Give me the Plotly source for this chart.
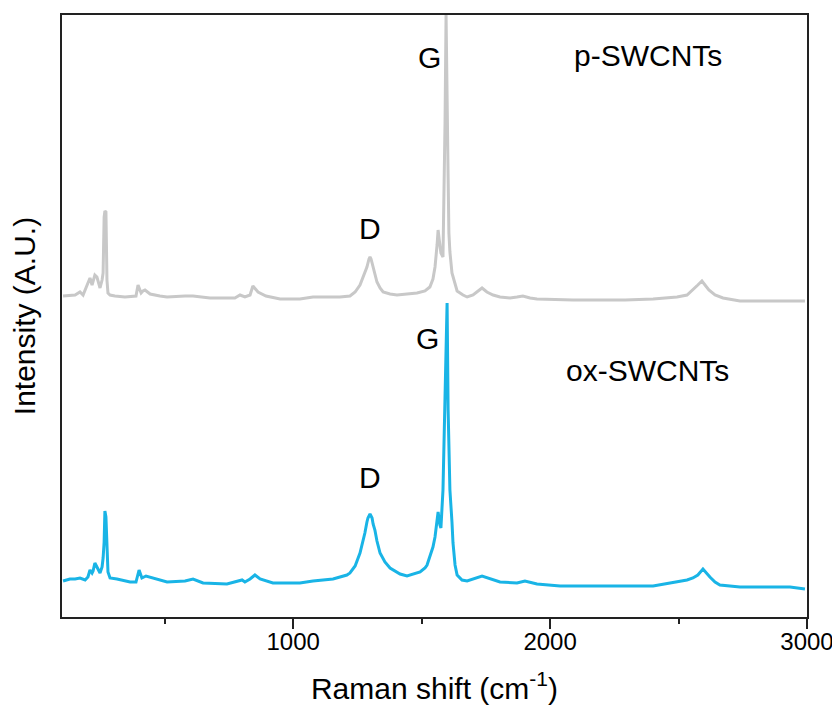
import plotly.graph_objects as go

# p-SWCNTs (grey, offset upward)
p_shift = [104, 131, 151, 170, 182, 201, 209, 217, 228, 236, 248, 256, 260, 264, 267, 271, 275, 279,
           287, 306, 345, 388, 396, 408, 415, 423, 443, 481, 509, 579, 610, 676, 715, 773, 793, 812,
           832, 843, 863, 894, 949, 1026, 1077, 1143, 1182, 1221, 1241, 1260, 1272, 1287, 1295,
           1299, 1303, 1311, 1318, 1326, 1338, 1350, 1377, 1404, 1443, 1482, 1513, 1532, 1544,
           1552, 1560, 1564, 1568, 1575, 1583, 1587, 1591, 1595, 1599, 1603, 1606, 1610, 1618,
           1630, 1638, 1661, 1677, 1700, 1735, 1754, 1778, 1805, 1844, 1871, 1894, 1922, 1949,
           2089, 2292, 2401, 2494, 2533, 2556, 2575, 2591, 2603, 2618, 2642, 2673, 2739, 2992]
p_int = [321, 322, 322, 325, 322, 334, 339, 332, 342, 340, 329, 337, 344, 400, 406, 405, 337, 324,
         322, 321, 320, 321, 332, 324, 326, 327, 323, 321, 320, 321, 321, 319, 319, 319, 322, 320,
         322, 331, 325, 321, 318, 318, 320, 320, 320, 321, 325, 332, 340, 350, 358,
         360, 358, 350, 342, 335, 329, 325, 323, 322, 323, 324, 326, 330, 338,
         350, 372, 387, 378, 364, 360, 417, 494, 602, 494, 440, 384, 365, 344,
         332, 326, 322, 320, 322, 329, 325, 322, 320, 319, 320, 321, 319, 318,
         317, 317, 318, 320, 322, 327, 332, 336, 332, 327, 322, 319, 316, 316]

# ox-SWCNTs (blue)
ox_shift = [104, 131, 151, 170, 190, 201, 209, 217, 221, 228, 236, 248, 256, 260, 264, 267, 271,
            275, 279, 287, 314, 365, 388, 400, 411, 427, 454, 509, 579, 610, 649, 742, 801, 812,
            832, 851, 871, 921, 1026, 1077, 1155, 1209, 1221, 1241, 1260, 1272, 1279, 1287, 1291,
            1299, 1303, 1307, 1311, 1318, 1326, 1338, 1357, 1377, 1416, 1443, 1494, 1513, 1521,
            1532, 1544, 1552, 1564, 1571, 1575, 1583, 1587, 1591, 1595, 1599, 1603, 1606, 1610,
            1618, 1622, 1630, 1638, 1657, 1677, 1735, 1778, 1805, 1871, 1894, 1902, 1949, 2039,
            2401, 2494, 2533, 2556, 2575, 2595, 2611, 2622, 2642, 2661, 2739, 2934, 2992]
ox_int = [36, 38, 38, 39, 37, 40, 47, 44, 46, 54, 50, 44, 50, 59, 75, 106, 100,
          70, 45, 39, 38, 35, 35, 47, 39, 41, 39, 35, 36, 38, 34, 33, 37, 35,
          38, 42, 38, 34, 34, 36, 38, 42, 44, 51, 64, 76, 84, 95, 99,
          103, 101, 99, 93, 87, 76, 64, 55, 49, 43, 41, 45, 49, 52,
          60, 70, 80, 105, 92, 89, 127, 170, 207, 277, 314, 207, 160, 127,
          95, 74, 52, 42, 37, 36, 41, 37, 35, 34, 35, 36, 33, 31,
          31, 35, 37, 39, 42, 48, 43, 40, 35, 32, 30, 30, 28]

# labels
label_text = ["D", "G", "p-SWCNTs", "D", "G", "ox-SWCNTs"]
label_x = [1299, 1529, 2381, 1299, 1521, 2381]
label_y = [389, 560, 562, 140, 279, 247]

FONT = "Arial, Liberation Sans, sans-serif"

fig = go.Figure()
fig.add_trace(go.Scatter(x=p_shift, y=p_int, mode="lines",
                         line=dict(color="#c8c8c8", width=3), name="p-SWCNTs"))
fig.add_trace(go.Scatter(x=ox_shift, y=ox_int, mode="lines",
                         line=dict(color="#19b4e6", width=3), name="ox-SWCNTs"))

for t, x, y in zip(label_text, label_x, label_y):
    fig.add_annotation(x=x, y=y, text=t, showarrow=False,
                       font=dict(family=FONT, size=30, color="black"),
                       xanchor="center", yanchor="middle")

# the page body has an 8px margin, so the figure is offset by 8px right and down
fig.update_layout(
    width=832, height=700,
    margin=dict(l=54, r=33, t=7, b=91),
    paper_bgcolor="white", plot_bgcolor="white",
    showlegend=False,
    font=dict(family=FONT, color="black"),
)
fig.update_xaxes(
    range=[100, 3000], tick0=0, dtick=1000,
    ticks="outside", ticklen=10, tickwidth=2, tickcolor="#222",
    minor=dict(dtick=500, tick0=0, ticks="outside", ticklen=5, tickwidth=2, tickcolor="#222"),
    showline=True, mirror=True, linecolor="#222", linewidth=2,
    showgrid=False, zeroline=False, automargin=False,
    ticklabelstandoff=-8, ticklabeloverflow="allow",
    tickfont=dict(family=FONT, size=24, color="black"),
    title=dict(text="Raman shift (cm<sup>-1</sup>)", font=dict(family=FONT, size=30, color="black"),
               standoff=24),
)
fig.update_yaxes(
    range=[0, 602], showticklabels=False, ticks="",
    showline=True, mirror=True, linecolor="#222", linewidth=2,
    showgrid=False, zeroline=False, automargin=False,
    title=dict(text="Intensity (A.U.)", font=dict(family=FONT, size=30, color="black"),
               standoff=32),
)

fig.write_html("out.html")
